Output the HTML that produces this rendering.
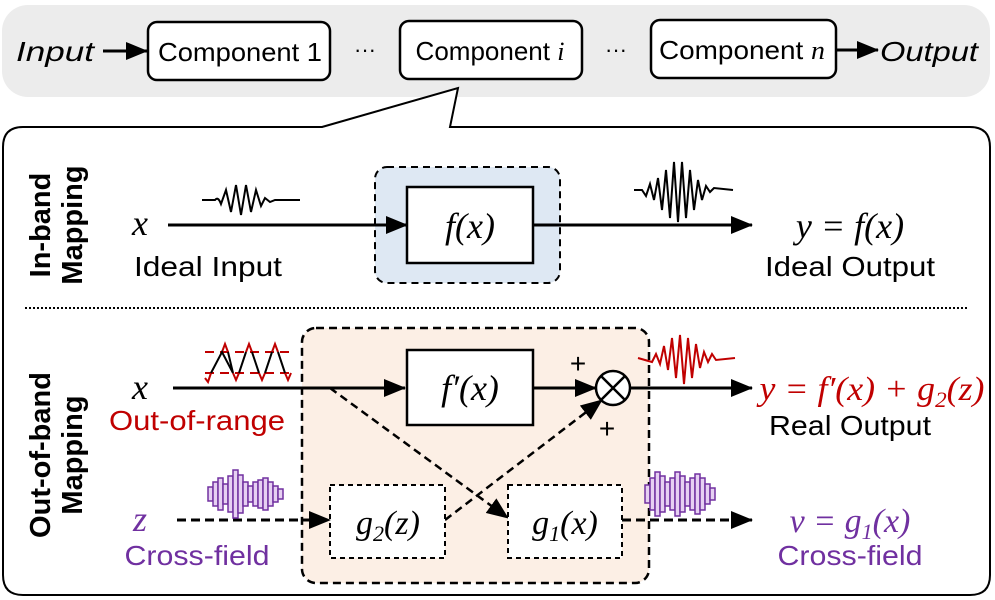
<!DOCTYPE html><html><head><meta charset="utf-8"><style>body{margin:0;background:#fff}svg{display:block}
text{font-family:"Liberation Sans",sans-serif}.m{font-family:"Liberation Serif",serif;font-style:italic}</style></head><body>
<svg width="995" height="600" viewBox="0 0 995 600">
<defs>
<marker id="b" markerWidth="22" markerHeight="18" refX="21" refY="9" orient="auto" markerUnits="userSpaceOnUse"><path d="M0,0 L22,9 L0,18z" fill="#000"/></marker>
</defs>
<rect x="2" y="5" width="988" height="92" rx="26" fill="#ececec"/>
<text x="16" y="61" font-size="28" font-style="italic" textLength="78" lengthAdjust="spacingAndGlyphs">Input</text>
<line x1="103" y1="51" x2="147" y2="51" stroke="#000" stroke-width="3" marker-end="url(#b)"/>
<rect x="148" y="22" width="182" height="58" rx="9" fill="#fff" stroke="#000" stroke-width="2.5"/>
<text x="240" y="61" font-size="26" text-anchor="middle" textLength="164" lengthAdjust="spacingAndGlyphs">Component 1</text>
<text x="365" y="57" font-size="22" text-anchor="middle">···</text>
<rect x="400" y="21" width="182" height="58" rx="9" fill="#fff" stroke="#000" stroke-width="2.5"/>
<text x="490" y="60" font-size="26" text-anchor="middle">Component <tspan class="m">i</tspan></text>
<text x="616" y="57" font-size="22" text-anchor="middle">···</text>
<rect x="651" y="20" width="185" height="58" rx="9" fill="#fff" stroke="#000" stroke-width="2.5"/>
<text x="742" y="59" font-size="26" text-anchor="middle" textLength="166" lengthAdjust="spacingAndGlyphs">Component <tspan class="m">n</tspan></text>
<line x1="836" y1="50" x2="878" y2="50" stroke="#000" stroke-width="3" marker-end="url(#b)"/>
<text x="880" y="61" font-size="28" font-style="italic" textLength="98" lengthAdjust="spacingAndGlyphs">Output</text>
<path d="M322,127 L458,88 L450,127 L970,127 Q990,127 990,147 L990,575 Q990,595 970,595 L23,595 Q3,595 3,575 L3,147 Q3,127 23,127 Z" fill="#fff" stroke="#000" stroke-width="2"/>
<text transform="translate(50,225) rotate(-90)" font-size="29" font-weight="bold" text-anchor="middle">In-band</text>
<text transform="translate(82,225) rotate(-90)" font-size="29" font-weight="bold" text-anchor="middle">Mapping</text>
<text transform="translate(50,455) rotate(-90)" font-size="29" font-weight="bold" text-anchor="middle">Out-of-band</text>
<text transform="translate(82,455) rotate(-90)" font-size="29" font-weight="bold" text-anchor="middle">Mapping</text>
<rect x="375" y="167" width="185" height="116" rx="12" fill="#dee8f3" stroke="#000" stroke-width="2" stroke-dasharray="7,5"/>
<text x="140" y="235" font-size="36" class="m" text-anchor="middle">x</text>
<line x1="168" y1="225" x2="407" y2="225" stroke="#000" stroke-width="3" marker-end="url(#b)"/>
<path d="M202,200 L215,200 Q218,196 221,204 L226,190 L231,212 L236,185 L241,215 L246,185 L251,212 L256,190 L261,206 L265,198 L270,202 L275,200 L300,200" fill="none" stroke="#000" stroke-width="2"/>
<rect x="407" y="187" width="126" height="76" fill="#fff" stroke="#000" stroke-width="2.5"/>
<text x="470" y="238" font-size="36" class="m" text-anchor="middle">f(x)</text>
<line x1="533" y1="225" x2="752" y2="225" stroke="#000" stroke-width="3" marker-end="url(#b)"/>
<path d="M634,190 L642,190 L646,196 L650,184 L654,200 L658,178 L662,210 L666,170 L670,218 L674,162 L678,222 L682,162 L686,218 L690,170 L694,210 L698,180 L702,200 L706,186 L710,192 L714,188 L733,190" fill="none" stroke="#000" stroke-width="2"/>
<text x="850" y="238" font-size="36" class="m" text-anchor="middle">y = f(x)</text>
<text x="208" y="276" font-size="28" text-anchor="middle" textLength="148" lengthAdjust="spacingAndGlyphs">Ideal Input</text>
<text x="850" y="276" font-size="28" text-anchor="middle" textLength="170" lengthAdjust="spacingAndGlyphs">Ideal Output</text>
<line x1="25" y1="308" x2="967" y2="308" stroke="#000" stroke-width="2" stroke-dasharray="2,2"/>
<rect x="302" y="328" width="347" height="255" rx="14" fill="#fcefe5" stroke="#000" stroke-width="2.5" stroke-dasharray="8,5"/>
<text x="140" y="399" font-size="36" class="m" text-anchor="middle">x</text>
<line x1="173" y1="388" x2="405" y2="388" stroke="#000" stroke-width="3" marker-end="url(#b)"/>
<line x1="205" y1="352" x2="292" y2="352" stroke="#c00000" stroke-width="2" stroke-dasharray="9,6"/>
<line x1="205" y1="373" x2="292" y2="373" stroke="#c00000" stroke-width="2" stroke-dasharray="9,6"/>
<path d="M205,378 L208,382 L211,373 M222,352 L225,344 L228,352 M246,352 L249,344 L252,352 M272,352 L275,344 L278,352 M233,373 L236,380 L239,373 M259,373 L262,380 L265,373 M285,373 L288,380 L291,373" fill="none" stroke="#c00000" stroke-width="2"/>
<path d="M211,373 L222,352 L233,373 M239,373 L246,352 M252,352 L259,373 M265,373 L272,352 M278,352 L285,373 M228,352 L233,373" fill="none" stroke="#000" stroke-width="2"/>
<text x="197" y="430" font-size="28" fill="#c00000" text-anchor="middle" textLength="176" lengthAdjust="spacingAndGlyphs">Out-of-range</text>
<rect x="407" y="350" width="126" height="75" fill="#fff" stroke="#000" stroke-width="2.5"/>
<text x="470" y="400" font-size="36" class="m" text-anchor="middle">f′(x)</text>
<line x1="533" y1="388" x2="596" y2="388" stroke="#000" stroke-width="3" marker-end="url(#b)"/>
<circle cx="613" cy="388" r="17" fill="#fff" stroke="#000" stroke-width="2.5"/>
<path d="M601,376 L625,400 M625,376 L601,400" stroke="#000" stroke-width="2.5"/>
<text x="578" y="373" font-size="28" text-anchor="middle">+</text>
<text x="607" y="438" font-size="28" text-anchor="middle">+</text>
<line x1="630" y1="388" x2="752" y2="388" stroke="#000" stroke-width="3" marker-end="url(#b)"/>
<path d="M638,358 L652,362 L656,354 L660,364 L664,346 L668,370 L672,338 L676,378 L680,335 L684,384 L688,338 L692,378 L696,344 L700,368 L704,352 L708,362 L712,354 L716,360 L735,358" fill="none" stroke="#c00000" stroke-width="2"/>
<text x="872" y="400" font-size="34" class="m" fill="#c00000" text-anchor="middle" textLength="225" lengthAdjust="spacingAndGlyphs">y = f′(x) + g<tspan font-size="22" dy="7">2</tspan><tspan dy="-7">(z)</tspan></text>
<text x="850" y="435" font-size="28" text-anchor="middle" textLength="162" lengthAdjust="spacingAndGlyphs">Real Output</text>
<line x1="330" y1="388" x2="508" y2="518" stroke="#000" stroke-width="2.5" stroke-dasharray="8,5" marker-end="url(#b)"/>
<line x1="445" y1="520" x2="602" y2="400" stroke="#000" stroke-width="2.5" stroke-dasharray="8,5" marker-end="url(#b)"/>
<rect x="330" y="485" width="115" height="73" fill="#fff" stroke="#000" stroke-width="2" stroke-dasharray="5,4"/>
<text x="388" y="534" font-size="34" class="m" text-anchor="middle">g<tspan font-size="22" dy="7">2</tspan><tspan dy="-7">(z)</tspan></text>
<rect x="508" y="485" width="114" height="73" fill="#fff" stroke="#000" stroke-width="2" stroke-dasharray="5,4"/>
<text x="565" y="534" font-size="34" class="m" text-anchor="middle">g<tspan font-size="22" dy="7">1</tspan><tspan dy="-7">(x)</tspan></text>
<text x="140" y="531" font-size="36" class="m" fill="#7030a0" text-anchor="middle">z</text>
<line x1="177" y1="520" x2="330" y2="520" stroke="#000" stroke-width="3" stroke-dasharray="9,5" marker-end="url(#b)"/>
<line x1="622" y1="520" x2="752" y2="520" stroke="#000" stroke-width="3" stroke-dasharray="9,5" marker-end="url(#b)"/>
<g fill="#e6d0f2" stroke="#7030a0" stroke-width="1.5">
<rect x="208" y="487" width="5" height="14"/><rect x="213" y="482" width="5" height="24"/><rect x="218" y="478" width="5" height="32"/><rect x="223" y="484" width="5" height="20"/><rect x="228" y="476" width="5" height="36"/><rect x="233" y="470" width="5" height="48"/><rect x="238" y="475" width="5" height="38"/><rect x="243" y="482" width="5" height="24"/><rect x="248" y="486" width="5" height="16"/><rect x="253" y="482" width="5" height="24"/><rect x="258" y="480" width="5" height="28"/><rect x="263" y="478" width="5" height="32"/><rect x="268" y="482" width="5" height="24"/><rect x="273" y="486" width="5" height="16"/><rect x="278" y="489" width="5" height="10"/>
<rect x="645" y="485" width="5" height="18"/><rect x="650" y="478" width="5" height="32"/><rect x="655" y="472" width="5" height="44"/><rect x="660" y="476" width="5" height="36"/><rect x="665" y="482" width="5" height="24"/><rect x="670" y="478" width="5" height="32"/><rect x="675" y="472" width="5" height="44"/><rect x="680" y="476" width="5" height="36"/><rect x="685" y="482" width="5" height="24"/><rect x="690" y="478" width="5" height="32"/><rect x="695" y="474" width="5" height="40"/><rect x="700" y="478" width="5" height="32"/><rect x="705" y="484" width="5" height="20"/><rect x="710" y="488" width="5" height="12"/>
</g>
<text x="850" y="532" font-size="34" class="m" fill="#7030a0" text-anchor="middle">v = g<tspan font-size="22" dy="7">1</tspan><tspan dy="-7">(x)</tspan></text>
<text x="197" y="565" font-size="28" fill="#7030a0" text-anchor="middle" textLength="145" lengthAdjust="spacingAndGlyphs">Cross-field</text>
<text x="850" y="565" font-size="28" fill="#7030a0" text-anchor="middle" textLength="145" lengthAdjust="spacingAndGlyphs">Cross-field</text>
</svg></body></html>
